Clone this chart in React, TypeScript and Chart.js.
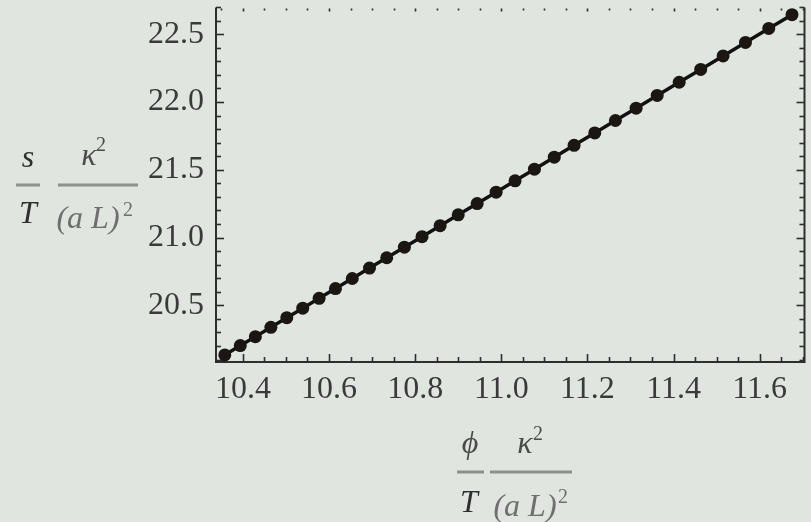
import React, { useEffect, useRef } from "react";
import { Chart, registerables } from "chart.js";

Chart.register(...registerables);

// ---- data ----
const xValues = [
  10.358, 10.394, 10.429, 10.465, 10.502, 10.539, 10.577, 10.615, 10.654, 10.694,
  10.734, 10.775, 10.816, 10.858, 10.9, 10.944, 10.988, 11.032, 11.077, 11.123,
  11.169, 11.217, 11.265, 11.313, 11.362, 11.413, 11.463, 11.515, 11.567, 11.621,
  11.675,
];
const yValues = [
  20.134, 20.203, 20.269, 20.338, 20.409, 20.479, 20.552, 20.624, 20.698, 20.775,
  20.851, 20.929, 21.007, 21.088, 21.168, 21.251, 21.335, 21.419, 21.505, 21.593,
  21.681, 21.772, 21.864, 21.955, 22.049, 22.146, 22.241, 22.34, 22.44, 22.543,
  22.645,
];
const xTickValues = [10.4, 10.6, 10.8, 11.0, 11.2, 11.4, 11.6];
const yTickValues = [20.5, 21.0, 21.5, 22.0, 22.5];
const xMinorStep = 0.05;
const yMinorStep = 0.1;
const xRange = [10.3376, 11.704];
const yRange = [20.082, 22.705];

const BG = "#e0e5e0";
const FRAME = "#2e2e2e";
const SERIF = '"Liberation Serif", "DejaVu Serif", serif';

function minorValues(min: number, max: number, step: number): number[] {
  const out: number[] = [];
  const start = Math.ceil(min / step - 1e-9);
  const end = Math.floor(max / step + 1e-9);
  for (let i = start; i <= end; i++) out.push(+(i * step).toFixed(4));
  return out;
}

const backgroundPlugin = {
  id: "bgFill",
  beforeDraw(chart: any) {
    const ctx = chart.ctx;
    ctx.save();
    ctx.fillStyle = BG;
    ctx.fillRect(0, 0, chart.width, chart.height);
    ctx.restore();
  },
};

const framePlugin = {
  id: "mmaFrame",
  beforeDatasetsDraw(chart: any) {
    const { ctx, chartArea } = chart;
    const { left, right, top, bottom } = chartArea;
    const xs = chart.scales.x;
    const ys = chart.scales.y;
    ctx.save();
    ctx.strokeStyle = FRAME;
    ctx.lineWidth = 2;
    // frame: left, bottom, right (top edge is cut off in reference)
    ctx.beginPath();
    ctx.moveTo(left, top + 1);
    ctx.lineTo(left, bottom);
    ctx.lineTo(right, bottom);
    ctx.lineTo(right, top + 1);
    ctx.stroke();

    const isMajor = (v: number, majors: number[]) =>
      majors.some((m) => Math.abs(m - v) < 1e-6);

    ctx.lineWidth = 1.6;
    for (const v of minorValues(xRange[0], xRange[1], xMinorStep)) {
      const px = Math.round(xs.getPixelForValue(v)) + 0.5;
      const len = isMajor(v, xTickValues) ? 8 : 5;
      ctx.beginPath();
      ctx.moveTo(px, bottom);
      ctx.lineTo(px, bottom - len);
      ctx.stroke();
      ctx.beginPath();
      ctx.moveTo(px, top + 2);
      ctx.lineTo(px, top + (isMajor(v, xTickValues) ? 5 : 4));
      ctx.stroke();
    }
    for (const v of minorValues(yRange[0], yRange[1], yMinorStep)) {
      const py = Math.round(ys.getPixelForValue(v)) + 0.5;
      const len = isMajor(v, yTickValues) ? 8 : 5;
      ctx.beginPath();
      ctx.moveTo(left, py);
      ctx.lineTo(left + len, py);
      ctx.stroke();
      ctx.beginPath();
      ctx.moveTo(right, py);
      ctx.lineTo(right - len, py);
      ctx.stroke();
    }
    ctx.restore();
  },
};

function txt(
  ctx: CanvasRenderingContext2D,
  s: string,
  x: number,
  y: number,
  font: string,
  color: string,
  align: CanvasTextAlign = "center"
) {
  ctx.font = font;
  ctx.fillStyle = color;
  ctx.textAlign = align;
  ctx.textBaseline = "alphabetic";
  ctx.fillText(s, x, y);
}

function bar(ctx: CanvasRenderingContext2D, x1: number, x2: number, y: number) {
  ctx.strokeStyle = "#8d918d";
  ctx.lineWidth = 3;
  ctx.beginPath();
  ctx.moveTo(x1, y);
  ctx.lineTo(x2, y);
  ctx.stroke();
}

const titlesPlugin = {
  id: "fracTitles",
  afterDraw(chart: any) {
    const ctx: CanvasRenderingContext2D = chart.ctx;
    const it = `italic 32px ${SERIF}`;
    const sup = `20px ${SERIF}`;
    const dark = "#2f2f2f";
    const mid = "#4a4a4a";
    const light = "#6e6e6e";
    ctx.save();
    // ---- y axis title: s/T  kappa^2/(a L)^2 ----
    txt(ctx, "s", 28, 167, it, dark);
    bar(ctx, 16, 40, 185);
    txt(ctx, "T", 28, 223, it, dark);
    txt(ctx, "\u03BA", 89, 165, it, mid);
    txt(ctx, "2", 96, 151, sup, mid, "left");
    bar(ctx, 58, 138, 185);
    txt(ctx, "(a L)", 88, 228, it, light);
    txt(ctx, "2", 123, 216, sup, light, "left");
    // ---- x axis title: phi/T  kappa^2/(a L)^2 ----
    txt(ctx, "\u03D5", 470, 453, it, mid);
    bar(ctx, 457, 484, 472);
    txt(ctx, "T", 469, 512, it, dark);
    txt(ctx, "\u03BA", 525, 453, it, mid);
    txt(ctx, "2", 533, 440, sup, mid, "left");
    bar(ctx, 490, 572, 472);
    txt(ctx, "(a L)", 525, 516, it, light);
    txt(ctx, "2", 558, 503, sup, light, "left");
    ctx.restore();
  },
};

export default function App() {
  const canvasRef = useRef<HTMLCanvasElement | null>(null);

  useEffect(() => {
    document.body.style.margin = "0";
    document.body.style.background = BG;
    const canvas = canvasRef.current;
    if (!canvas) return;
    const points = xValues.map((x, i) => ({ x, y: yValues[i] }));
    const tickFont = { family: SERIF, size: 32 };
    const chart = new Chart(canvas, {
      type: "scatter",
      data: {
        datasets: [
          {
            data: points,
            showLine: true,
            borderColor: "#111111",
            borderWidth: 3.5,
            pointRadius: 6.5,
            pointBackgroundColor: "#1a1713",
            pointBorderColor: "#1a1713",
            pointBorderWidth: 0,
            clip: false as any,
          },
        ],
      },
      options: {
        animation: false,
        responsive: false,
        events: [],
        layout: { padding: { top: 4, right: 4, left: 0, bottom: 0 } },
        plugins: {
          legend: { display: false },
          tooltip: { enabled: false },
        },
        scales: {
          x: {
            type: "linear",
            min: xRange[0],
            max: xRange[1],
            grid: { display: false, drawTicks: false },
            border: { display: false },
            afterBuildTicks: (s: any) => {
              s.ticks = xTickValues.map((v) => ({ value: v }));
            },
            afterFit: (s: any) => {
              s.height = 160;
              s.paddingLeft = 0;
              s.paddingRight = 0;
            },
            ticks: {
              font: tickFont,
              color: "#3a3a3a",
              padding: 8,
              maxRotation: 0,
              autoSkip: false,
              callback: (v: any) => Number(v).toFixed(1),
            },
          },
          y: {
            type: "linear",
            min: yRange[0],
            max: yRange[1],
            grid: { display: false, drawTicks: false },
            border: { display: false },
            afterBuildTicks: (s: any) => {
              s.ticks = yTickValues.map((v) => ({ value: v }));
            },
            afterFit: (s: any) => {
              s.width = 216;
              s.paddingTop = 0;
              s.paddingBottom = 0;
            },
            ticks: {
              font: tickFont,
              color: "#3a3a3a",
              padding: 12,
              autoSkip: false,
              callback: (v: any) => Number(v).toFixed(1),
            },
          },
        },
      },
      plugins: [backgroundPlugin, framePlugin, titlesPlugin],
    });
    return () => chart.destroy();
  }, []);

  return (
    <div style={{ position: "absolute", left: 0, top: 0, width: 811, height: 522, background: BG }}>
      <canvas ref={canvasRef} width={811} height={522} style={{ display: "block" }} />
    </div>
  );
}
